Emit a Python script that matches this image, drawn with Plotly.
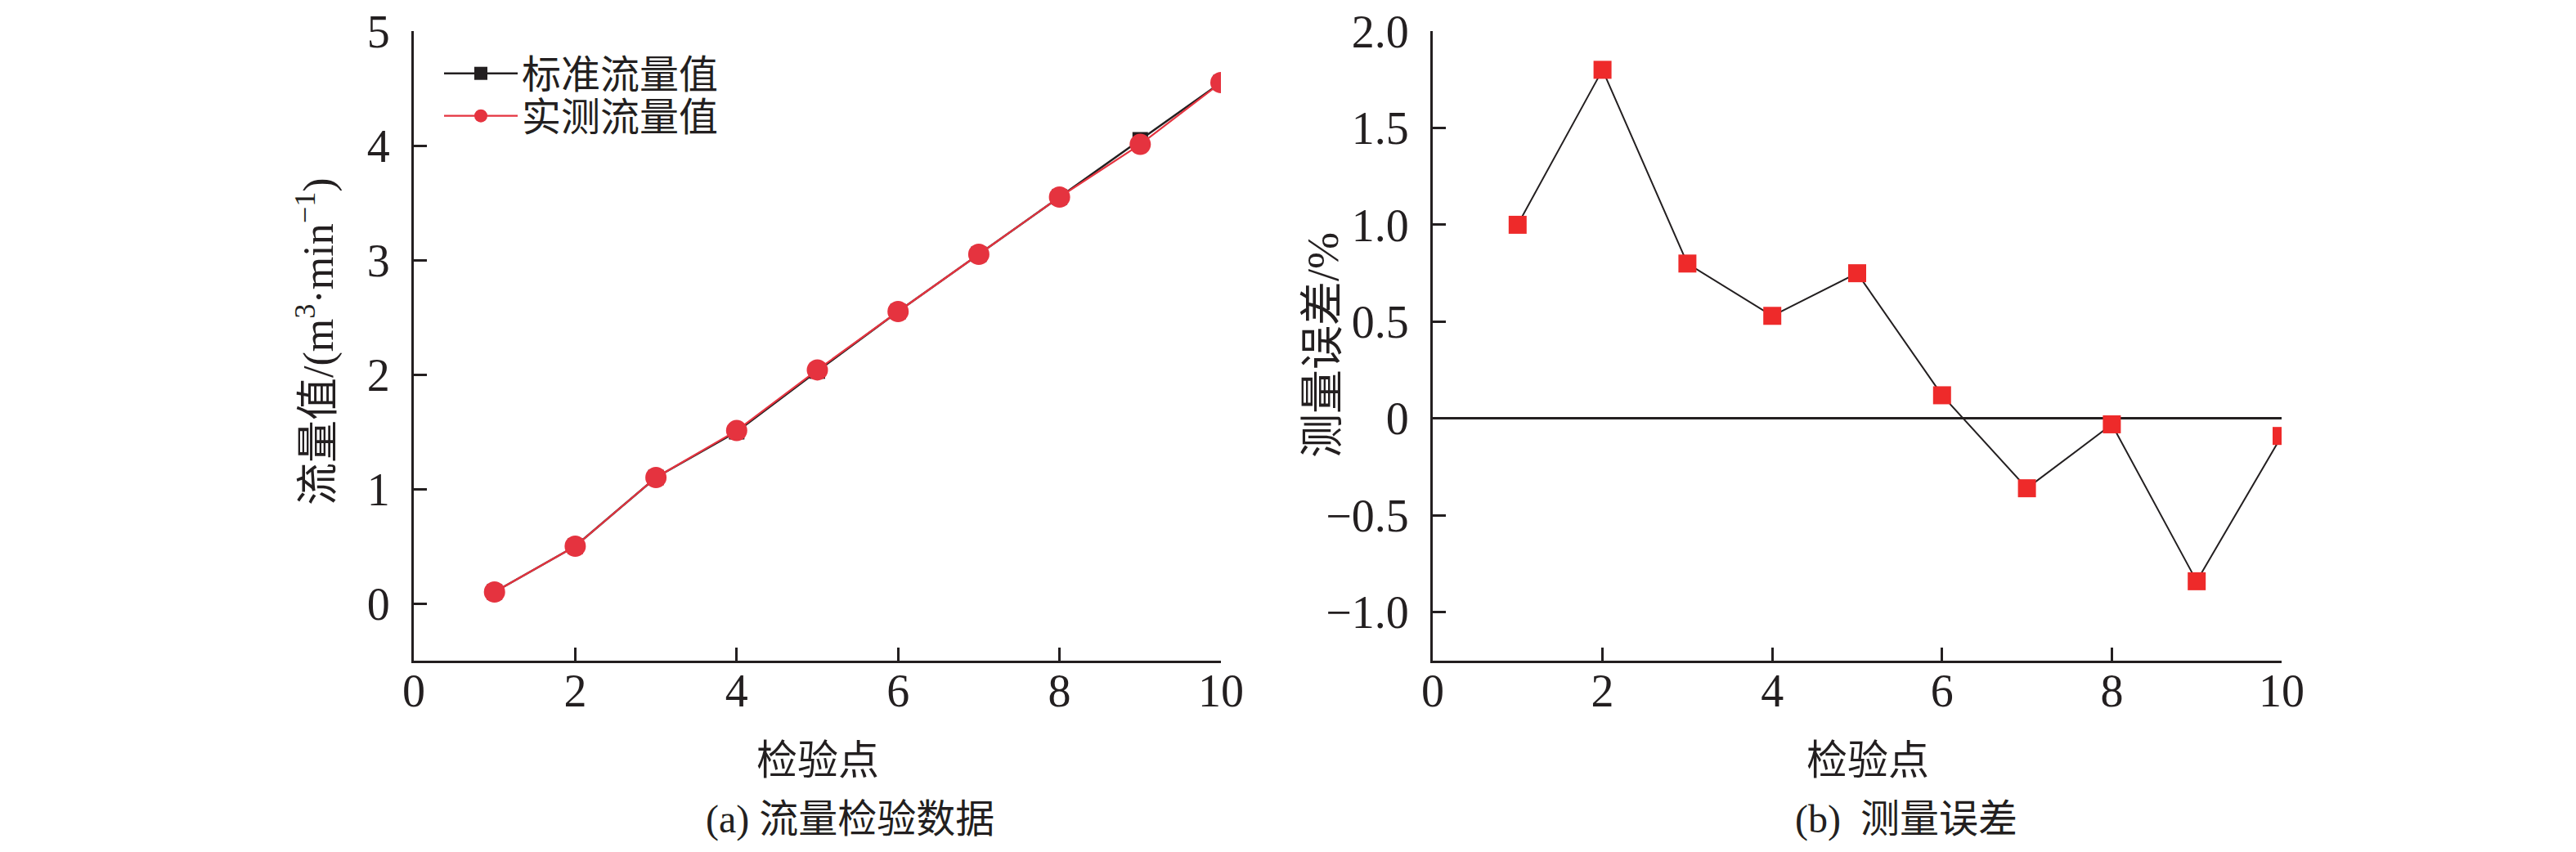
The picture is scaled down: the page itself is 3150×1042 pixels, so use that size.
import plotly.graph_objects as go

# ---- data ----
points = [1, 2, 3, 4, 5, 6, 7, 8, 9, 10]
standard_flow = [0.10, 0.50, 1.10, 1.50, 2.03, 2.55, 3.05, 3.55, 4.05, 4.55]
measured_flow = [0.10, 0.50, 1.10, 1.51, 2.04, 2.55, 3.05, 3.55, 4.01, 4.55]
error_pct = [1.00, 1.80, 0.80, 0.53, 0.75, 0.12, -0.36, -0.03, -0.84, -0.09]

x_ticks = [0, 2, 4, 6, 8, 10]
y1_ticks = [0, 1, 2, 3, 4, 5]
y2_ticks = [-1.0, -0.5, 0, 0.5, 1.0, 1.5, 2.0]
y2_labels = ["\u22121.0", "\u22120.5", "0", "0.5", "1.0", "1.5", "2.0"]

legend_names = ["标准流量值", "实测流量值"]
x_title = "检验点"
y1_title = "流量值/(m<sup>3</sup>·min<sup>\u22121</sup>)"
y2_title = "测量误差/%"
cap_a = "(a) 流量检验数据"
cap_b = "(b)  测量误差"

FONT = "Liberation Serif, Noto Sans CJK SC, serif"
INK = "#231f20"
RED1 = "#e5333f"
RED2 = "#ee2a2a"

W, H = 3150, 1042
def px(v): return v / W
def py(v): return 1 - v / H

fig = go.Figure()
fig.add_trace(go.Scatter(x=points, y=standard_flow, mode="lines+markers",
                         name=legend_names[0], xaxis="x", yaxis="y", legend="legend",
                         line=dict(color=INK, width=2.5),
                         marker=dict(symbol="square", size=19, color=INK)))
fig.add_trace(go.Scatter(x=points, y=measured_flow, mode="lines+markers",
                         name=legend_names[1], xaxis="x", yaxis="y", legend="legend2",
                         line=dict(color=RED1, width=2.2),
                         marker=dict(symbol="circle", size=26, color=RED1)))
fig.add_trace(go.Scatter(x=points, y=error_pct, mode="lines+markers",
                         showlegend=False, xaxis="x2", yaxis="y2",
                         line=dict(color=INK, width=2),
                         marker=dict(symbol="square", size=22, color=RED2)))

axis_common = dict(showline=True, linecolor=INK, linewidth=3, ticks="inside",
                   ticklen=16, tickwidth=3, tickcolor=INK, showgrid=False,
                   automargin=False, ticklabeloverflow="allow",
                   tickfont=dict(family=FONT, size=56, color=INK), mirror=False)

legend_common = dict(xanchor="left", yanchor="middle", bgcolor="rgba(0,0,0,0)",
                     font=dict(family=FONT, size=48, color=INK), itemwidth=90)

fig.update_layout(
    width=W, height=H, paper_bgcolor="white", plot_bgcolor="white",
    margin=dict(l=0, r=0, t=0, b=0, autoexpand=False),
    font=dict(family=FONT, color=INK),
    xaxis=dict(domain=[px(498), px(1485)], range=[0, 10], tickvals=x_ticks,
               zeroline=False, anchor="y", ticklabelstandoff=-14, **axis_common),
    yaxis=dict(domain=[py(800), py(30)], range=[-0.5, 5], tickvals=y1_ticks,
               zeroline=False, anchor="x", ticklabelstandoff=15, **axis_common),
    xaxis2=dict(domain=[px(1744), px(2782)], range=[0, 10], tickvals=x_ticks,
                zeroline=False, anchor="y2", ticklabelstandoff=-14, **axis_common),
    yaxis2=dict(domain=[py(800), py(30)], range=[-1.25, 2.0], tickvals=y2_ticks,
                ticktext=y2_labels, zeroline=True, zerolinecolor=INK, zerolinewidth=3,
                anchor="x2", ticklabelstandoff=15, **axis_common),
    legend=dict(x=px(530), y=py(82), **legend_common),
    legend2=dict(x=px(530), y=py(134), **legend_common),
    showlegend=True,
)

ann = [
    dict(text=x_title, x=px(992), y=py(922), size=50, angle=0),
    dict(text=x_title, x=px(2276), y=py(922), size=50, angle=0),
    dict(text=cap_a, x=px(1031), y=py(994), size=48, angle=0),
    dict(text=cap_b, x=px(2323), y=py(994), size=48, angle=0),
    dict(text=y1_title, x=px(378), y=py(410), size=52, angle=-90),
    dict(text=y2_title, x=px(1610), y=py(414), size=54, angle=-90),
]
for a in ann:
    fig.add_annotation(text=a["text"], x=a["x"], y=a["y"], xref="paper", yref="paper",
                       xanchor="center", yanchor="middle", showarrow=False,
                       textangle=a["angle"], font=dict(family=FONT, size=a["size"], color=INK))

fig.write_html("out.html")
